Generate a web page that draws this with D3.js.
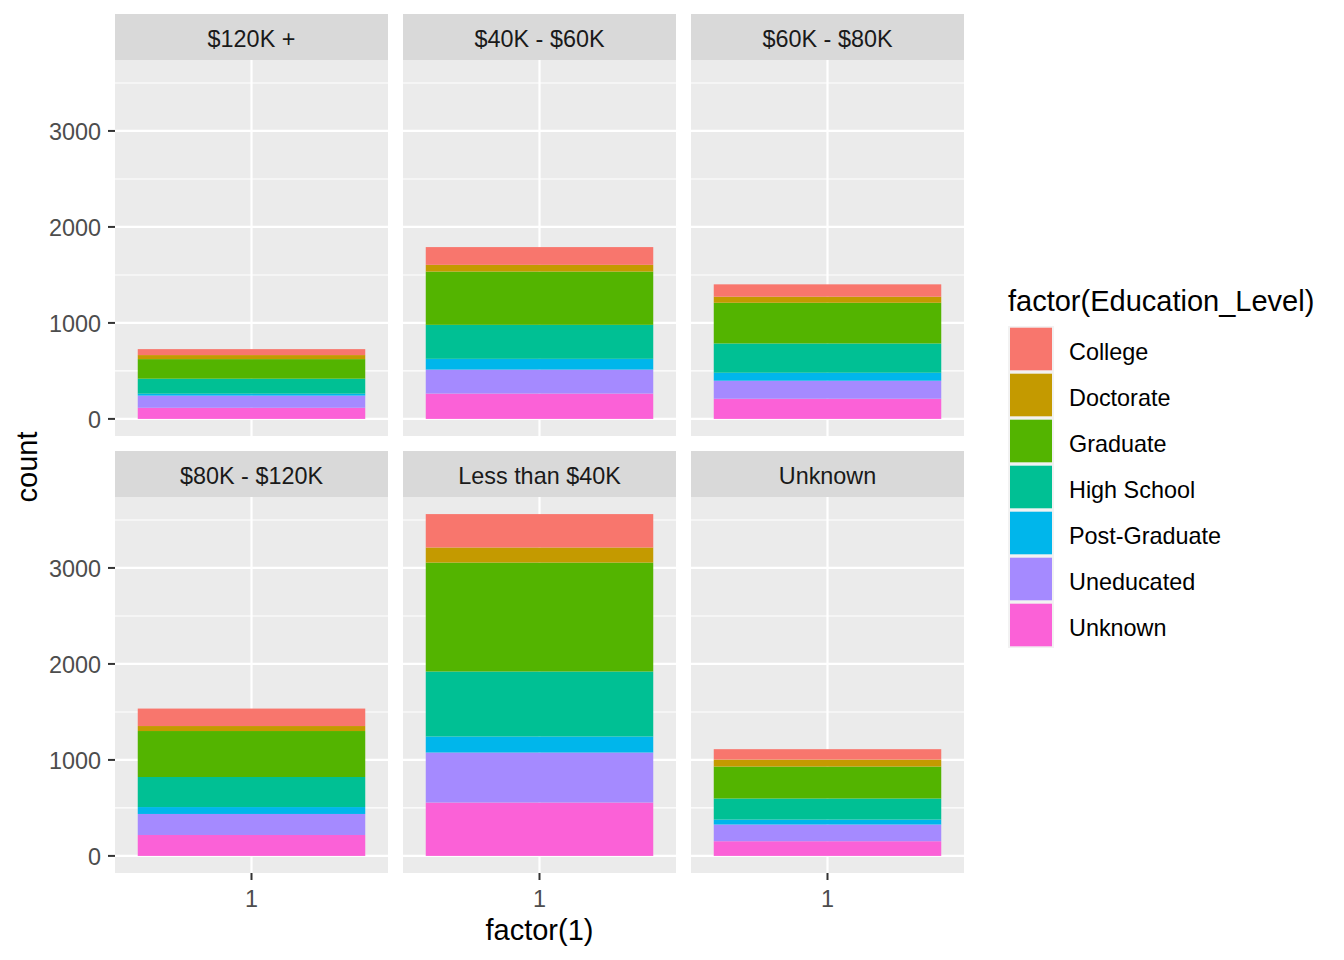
<!DOCTYPE html>
<html>
<head>
<meta charset="utf-8">
<script src="https://cdn.jsdelivr.net/npm/d3@7"></script>
<style>
  html, body { margin: 0; padding: 0; background: #fff; }
  svg { display: block; font-family: "Liberation Sans", Arial, sans-serif; }
</style>
</head>
<body>
<svg id="chart" width="1344" height="960"></svg>
<script>
// ---- data ----
const incomes = ["$120K +", "$40K - $60K", "$60K - $80K", "$80K - $120K", "Less than $40K", "Unknown"];
const educationLevels = ["College", "Doctorate", "Graduate", "High School", "Post-Graduate", "Uneducated", "Unknown"];
const college      = [62, 185, 129, 182, 348, 108];
const doctorate    = [42, 70, 63, 52, 157, 73];
const graduate     = [204, 555, 424, 479, 1135, 333];
const highSchool   = [156, 354, 305, 313, 677, 219];
const postGraduate = [20, 112, 83, 72, 167, 52];
const uneducated   = [127, 250, 188, 219, 521, 174];
const unknownEdu   = [116, 264, 210, 218, 556, 153];
const seriesValues = [college, doctorate, graduate, highSchool, postGraduate, uneducated, unknownEdu];
const yMajorTicks = [0, 1000, 2000, 3000];
const yMinorTicks = [500, 1500, 2500, 3500];
const xCategories = ["1"];
const palette = ["#F8766D", "#C49A00", "#53B400", "#00C094", "#00B6EB", "#A58AFF", "#FB61D7"];

// ---- layout ----
const svg = d3.select("#chart");
const colX = [115, 403, 691];
const panelW = 273;
const stripTop = [14, 451];
const stripH = 46;
const panelH = 376;
const smallFont = 23.4, bigFont = 29;

const totals = incomes.map((_, i) => d3.sum(seriesValues, s => s[i]));
const maxT = d3.max(totals);
const y = d3.scaleLinear().domain([-0.05 * maxT, maxT * 1.05]).range([panelH, 0]);
const xLin = d3.scaleLinear().domain([0.46, 1.54]).range([0, panelW]);
const color = d3.scaleOrdinal().domain(educationLevels).range(palette);

incomes.forEach((inc, i) => {
  const col = i % 3, row = Math.floor(i / 3);
  const px = colX[col];
  const py = stripTop[row] + stripH;
  // strip
  svg.append("rect").attr("x", px).attr("y", stripTop[row]).attr("width", panelW).attr("height", stripH).attr("fill", "#D9D9D9");
  svg.append("text").attr("x", px + panelW / 2).attr("y", stripTop[row] + stripH / 2 + 1.5)
    .attr("text-anchor", "middle").attr("dominant-baseline", "central")
    .attr("font-size", smallFont).attr("fill", "#1A1A1A").text(inc);
  const g = svg.append("g").attr("transform", `translate(${px},${py})`);
  g.append("rect").attr("width", panelW).attr("height", panelH).attr("fill", "#EBEBEB");
  yMinorTicks.forEach(t => g.append("line").attr("x1", 0).attr("x2", panelW).attr("y1", y(t)).attr("y2", y(t)).attr("stroke", "#fff").attr("stroke-width", 1.1));
  yMajorTicks.forEach(t => g.append("line").attr("x1", 0).attr("x2", panelW).attr("y1", y(t)).attr("y2", y(t)).attr("stroke", "#fff").attr("stroke-width", 2.2));
  xCategories.forEach((c, k) => g.append("line").attr("x1", xLin(k + 1)).attr("x2", xLin(k + 1)).attr("y1", 0).attr("y2", panelH).attr("stroke", "#fff").attr("stroke-width", 2.2));
  // stacked bar: last level at bottom
  let cum = 0;
  for (let s = educationLevels.length - 1; s >= 0; s--) {
    const v = seriesValues[s][i];
    g.append("rect")
      .attr("x", xLin(1 - 0.45)).attr("width", xLin(1 + 0.45) - xLin(1 - 0.45))
      .attr("y", y(cum + v)).attr("height", y(cum) - y(cum + v))
      .attr("fill", color(educationLevels[s]));
    cum += v;
  }
  // y axis on left column
  if (col === 0) {
    yMajorTicks.forEach(t => {
      g.append("line").attr("x1", -7).attr("x2", 0).attr("y1", y(t)).attr("y2", y(t)).attr("stroke", "#333").attr("stroke-width", 2);
      g.append("text").attr("x", -14).attr("y", y(t) + 1.5).attr("text-anchor", "end").attr("dominant-baseline", "central")
        .attr("font-size", smallFont).attr("fill", "#4D4D4D").text(t);
    });
  }
  // x axis on bottom row
  if (row === 1) {
    xCategories.forEach((c, k) => {
      g.append("line").attr("x1", xLin(k + 1)).attr("x2", xLin(k + 1)).attr("y1", panelH).attr("y2", panelH + 7).attr("stroke", "#333").attr("stroke-width", 2);
      g.append("text").attr("x", xLin(k + 1)).attr("y", panelH + 26).attr("text-anchor", "middle").attr("dominant-baseline", "central")
        .attr("font-size", smallFont).attr("fill", "#4D4D4D").text(c);
    });
  }
});

// axis titles
svg.append("text").attr("x", colX[1] + panelW / 2).attr("y", 940).attr("text-anchor", "middle")
  .attr("font-size", bigFont).attr("fill", "#000").text("factor(1)");
svg.append("text").attr("transform", "translate(37,467) rotate(-90)").attr("text-anchor", "middle")
  .attr("font-size", bigFont).attr("fill", "#000").text("count");

// legend
const lg = svg.append("g");
lg.append("text").attr("x", 1008).attr("y", 311).attr("font-size", bigFont).attr("fill", "#000").text("factor(Education_Level)");
const keyH = 46, keyTop = 326;
lg.append("rect").attr("x", 1008).attr("y", keyTop).attr("width", 46).attr("height", keyH * educationLevels.length).attr("fill", "#F2F2F2");
educationLevels.forEach((lvl, k) => {
  const ky = keyTop + k * keyH;
  lg.append("rect").attr("x", 1010).attr("y", ky + 1.7).attr("width", 42).attr("height", keyH - 3.4).attr("fill", color(lvl));
  lg.append("text").attr("x", 1069).attr("y", ky + keyH / 2 + 3).attr("dominant-baseline", "central")
    .attr("font-size", smallFont).attr("fill", "#000").text(lvl);
});
</script>
</body>
</html>
